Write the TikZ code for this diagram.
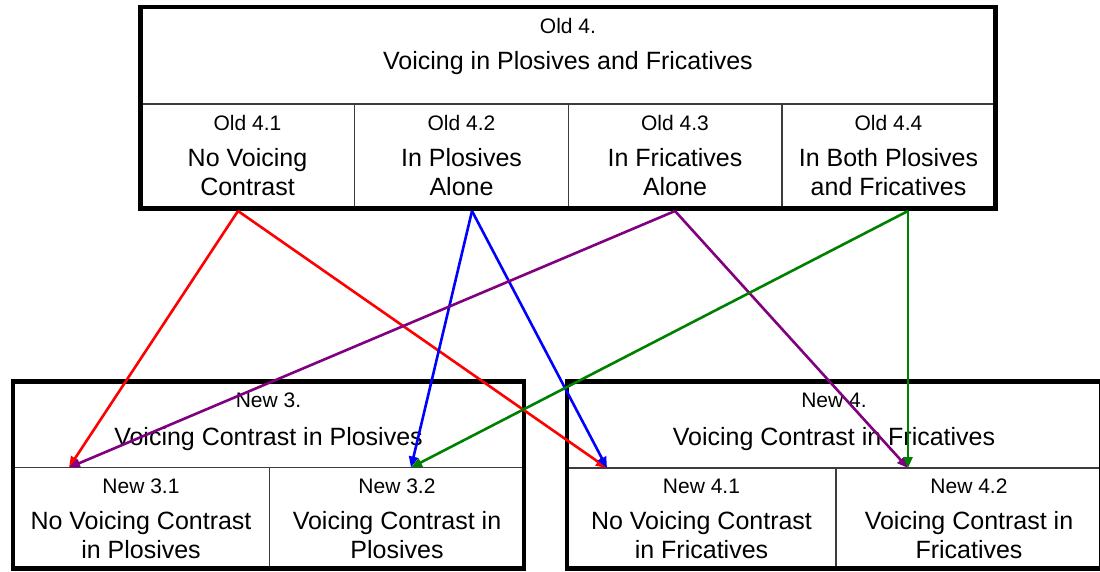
\documentclass[tikz,border=0pt]{standalone}
\usepackage{fontspec}
\setmainfont{Liberation Sans}
\usetikzlibrary{arrows.meta}
\definecolor{linkred}{RGB}{255,0,0}
\definecolor{linkblue}{RGB}{0,0,255}
\definecolor{linkpurple}{RGB}{128,0,128}
\definecolor{linkgreen}{RGB}{0,128,0}
\definecolor{rulegray}{RGB}{60,60,60}

\begin{document}
\begin{tikzpicture}[x=1pt,y=-1pt,
  frame/.style={line width=4.5pt, line join=miter},
  divider/.style={line width=1.3pt, draw=rulegray},
  tag/.style={anchor=base, inner sep=0pt, font=\fontsize{21}{24}\selectfont},
  % two-line texts are placed by the baseline of their last line
  body/.style={anchor=base, inner sep=0pt, align=center, font=\fontsize{25}{28.5}\selectfont},
  link/.style={line width=2.6pt, -{Triangle[length=11pt,width=9pt]}},
]
% page
\fill[white] (0,0) rectangle (1100,571);
\useasboundingbox (0,0) rectangle (1100,571);

% ---- old category 4 ----
\draw[divider] (140.5,104) -- (995.5,104);
\foreach \x in {354.5,568.5,782} \draw[divider] (\x,104) -- (\x,208.5);
\draw[frame] (140.5,7) rectangle (995.5,208.5);

\node[tag]  (old4)  at (568,33) {Old 4.};
\node[body] (old4t) at (568,69) {Voicing in Plosives and Fricatives};

\node[tag]  (o41)  at (247.5,130) {Old 4.1};
\node[body] (o41t) at (247.5,195) {No Voicing\\Contrast};
\node[tag]  (o42)  at (461.5,130) {Old 4.2};
\node[body] (o42t) at (461.5,195) {In Plosives\\Alone};
\node[tag]  (o43)  at (675,130) {Old 4.3};
\node[body] (o43t) at (675,195) {In Fricatives\\Alone};
\node[tag]  (o44)  at (888.5,130) {Old 4.4};
\node[body] (o44t) at (888.5,195) {In Both Plosives\\and Fricatives};

% ---- new category 3 ----
\draw[divider] (13,467.5) -- (524,467.5);
\draw[divider] (269.5,467.5) -- (269.5,568.5);
\draw[frame] (13,381.5) rectangle (524,568.5);

\node[tag]  (new3)  at (268.5,407) {New 3.};
\node[body] (new3t) at (268.5,445) {Voicing Contrast in Plosives};
\node[tag]  (n31)  at (141,493) {New 3.1};
\node[body] (n31t) at (141,558) {No Voicing Contrast\\in Plosives};
\node[tag]  (n32)  at (397,493) {New 3.2};
\node[body] (n32t) at (397,558) {Voicing Contrast in\\Plosives};

% ---- new category 4 ----
\draw[divider] (567,468) -- (1101,468);
\draw[divider] (836,468) -- (836,568.5);
\draw[frame] (567,381.5) rectangle (1101,568.5);

\node[tag]  (new4)  at (834,407) {New 4.};
\node[body] (new4t) at (834,445) {Voicing Contrast in Fricatives};
\node[tag]  (n41)  at (701.5,493) {New 4.1};
\node[body] (n41t) at (701.5,558) {No Voicing Contrast\\in Fricatives};
\node[tag]  (n42)  at (969,493) {New 4.2};
\node[body] (n42t) at (969,558) {Voicing Contrast in\\Fricatives};

% ---- mapping from old to new values ----
\coordinate (from41) at (238,211);
\coordinate (from42) at (472,211);
\coordinate (from43) at (675,211);
\coordinate (from44) at (908,211);
\coordinate (to31) at (69,467.5);
\coordinate (to32) at (411,467.5);
\coordinate (to41) at (607,468);
\coordinate (to42) at (908,468);

\draw[link, linkred] (from41) -- (to31);
\draw[link, linkred] (from41) -- (to41);
\draw[link, linkblue] (from42) -- (to32);
\draw[link, linkblue] (from42) -- (to41);
\draw[link, linkpurple] (from43) -- (to31);
\draw[link, linkpurple] (from43) -- (to42);
\draw[link, linkgreen] (from44) -- (to32);
\draw[link, linkgreen] (from44) -- (to42);
\end{tikzpicture}
\end{document}
